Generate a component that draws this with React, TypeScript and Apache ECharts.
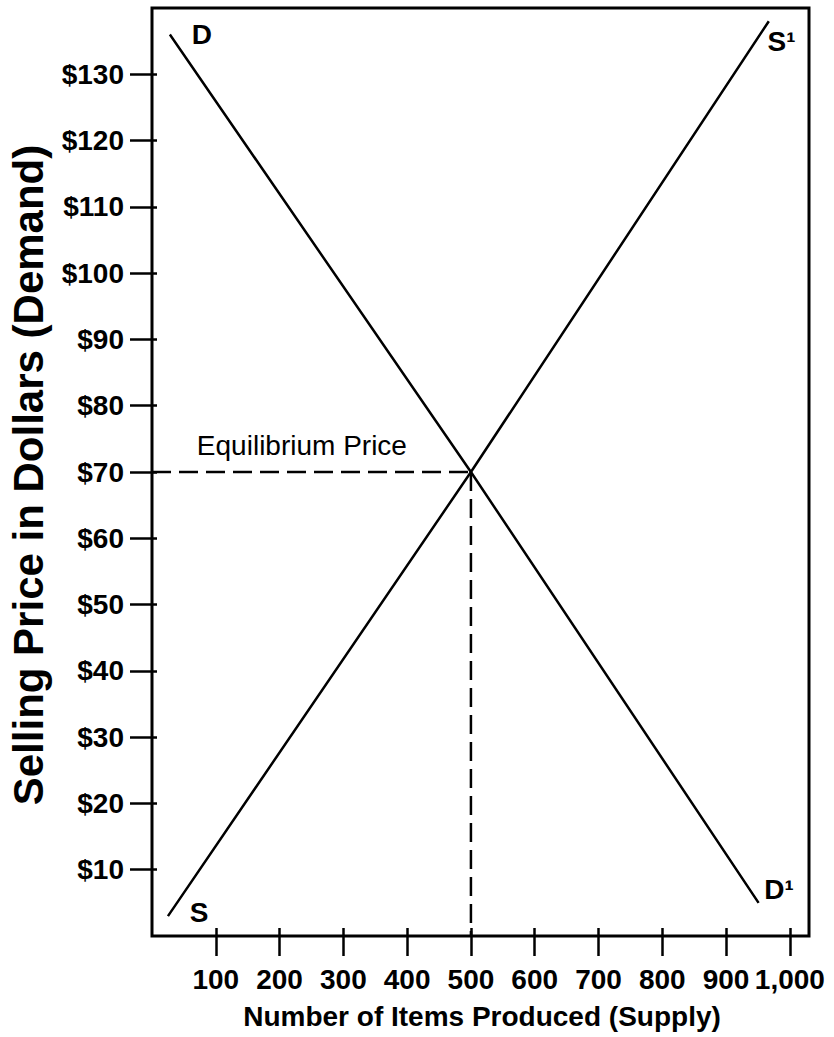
import React, { useEffect, useRef } from "react";
import * as echarts from "echarts";

const xTicks = [100, 200, 300, 400, 500, 600, 700, 800, 900, 1000];
const yTicks = [10, 20, 30, 40, 50, 60, 70, 80, 90, 100, 110, 120, 130];
const demandX = [28, 500, 951];
const demandY = [136, 70, 5];
const supplyX = [25, 500, 967];
const supplyY = [3, 70, 138];
const eqX = 500;
const eqY = 70;
const curveLabels = ["D", "S¹", "S", "D¹"];
const curveLabelX = [78, 987, 74, 983];
const curveLabelY = [136, 135, 3.6, 7];
const eqLabel = "Equilibrium Price";
const eqLabelX = 235;
const eqLabelY = 74;
const xTitle = "Number of Items Produced (Supply)";
const yTitle = "Selling Price in Dollars (Demand)";

const FONT = '"Liberation Sans", Arial, Helvetica, sans-serif';

export default function App() {
  const ref = useRef<HTMLDivElement>(null);
  useEffect(() => {
    if (!ref.current) return;
    const chart = echarts.init(ref.current, null, { renderer: "svg" });
    const black = "#000";
    const xBase = { type: "value", min: 0, max: 1030, interval: 100, gridIndex: 0, splitLine: { show: false } };
    const yBase = { type: "value", min: 0, max: 140, interval: 10, gridIndex: 0, splitLine: { show: false } };
    chart.setOption({
      animation: false,
      backgroundColor: "#fff",
      textStyle: { fontFamily: FONT },
      grid: {
        left: 152,
        top: 8,
        width: 657,
        height: 928,
        show: true,
        borderColor: black,
        borderWidth: 3,
        backgroundColor: "transparent",
      },
      xAxis: [
        {
          ...xBase,
          position: "bottom",
          axisLine: { show: false },
          axisTick: { show: true, inside: false, length: 20, customValues: xTicks, lineStyle: { color: black, width: 2.5 } },
          axisLabel: {
            customValues: xTicks,
            formatter: (v: number) => v.toLocaleString("en-US"),
            margin: 29,
            fontSize: 28,
            fontWeight: "bold",
            color: black,
            fontFamily: FONT,
          },
        },
        {
          ...xBase,
          position: "bottom",
          axisLine: { show: false },
          axisTick: { show: true, inside: true, length: 8, customValues: xTicks, lineStyle: { color: black, width: 2.5 } },
          axisLabel: { show: false },
        },
      ],
      yAxis: [
        {
          ...yBase,
          position: "left",
          axisLine: { show: false },
          axisTick: { show: true, inside: false, length: 22, customValues: yTicks, lineStyle: { color: black, width: 2.5 } },
          axisLabel: {
            customValues: yTicks,
            formatter: (v: number) => "$" + v,
            margin: 28,
            fontSize: 28,
            fontWeight: "bold",
            color: black,
            fontFamily: FONT,
          },
        },
        {
          ...yBase,
          position: "left",
          axisLine: { show: false },
          axisTick: { show: true, inside: true, length: 5, customValues: yTicks, lineStyle: { color: black, width: 2.5 } },
          axisLabel: { show: false },
        },
      ],
      series: [
        {
          type: "line",
          data: demandX.map((x, i) => [x, demandY[i]]),
          symbol: "none",
          lineStyle: { color: black, width: 2.5 },
        },
        {
          type: "line",
          data: supplyX.map((x, i) => [x, supplyY[i]]),
          symbol: "none",
          lineStyle: { color: black, width: 2.5 },
        },
        {
          type: "line",
          data: [[0, eqY], [eqX, eqY]],
          symbol: "none",
          lineStyle: { color: black, width: 2.5, type: [19, 8] },
        },
        {
          type: "line",
          data: [[eqX, eqY], [eqX, 0]],
          symbol: "none",
          lineStyle: { color: black, width: 2.5, type: [19, 8] },
        },
        {
          type: "scatter",
          symbol: "circle",
          symbolSize: 1,
          itemStyle: { color: "rgba(0,0,0,0)", opacity: 1 },
          data: curveLabels.map((n, i) => ({ name: n, value: [curveLabelX[i], curveLabelY[i]] })),
          label: {
            show: true,
            position: "inside",
            formatter: (p: any) => p.name,
            fontSize: 28,
            fontWeight: "bold",
            color: black,
            textBorderWidth: 0,
            fontFamily: FONT,
          },
        },
        {
          type: "scatter",
          symbol: "circle",
          symbolSize: 1,
          itemStyle: { color: "rgba(0,0,0,0)", opacity: 1 },
          data: [{ name: eqLabel, value: [eqLabelX, eqLabelY] }],
          label: {
            show: true,
            position: "inside",
            formatter: (p: any) => p.name,
            fontSize: 28,
            color: black,
            textBorderWidth: 0,
            fontFamily: FONT,
          },
        },
      ],
      graphic: [
        {
          type: "text",
          x: 28,
          y: 475,
          rotation: Math.PI / 2,
          style: {
            text: yTitle,
            fontSize: 42,
            fontWeight: "bold",
            fontFamily: FONT,
            fill: black,
            textAlign: "center",
            textVerticalAlign: "middle",
          },
        },
        {
          type: "text",
          x: 482,
          y: 1016,
          style: {
            text: xTitle,
            fontSize: 28,
            fontWeight: "bold",
            fontFamily: FONT,
            fill: black,
            textAlign: "center",
            textVerticalAlign: "middle",
          },
        },
      ],
    });
    return () => chart.dispose();
  }, []);
  return <div ref={ref} style={{ position: "absolute", left: 0, top: 0, width: 834, height: 1037 }} />;
}
